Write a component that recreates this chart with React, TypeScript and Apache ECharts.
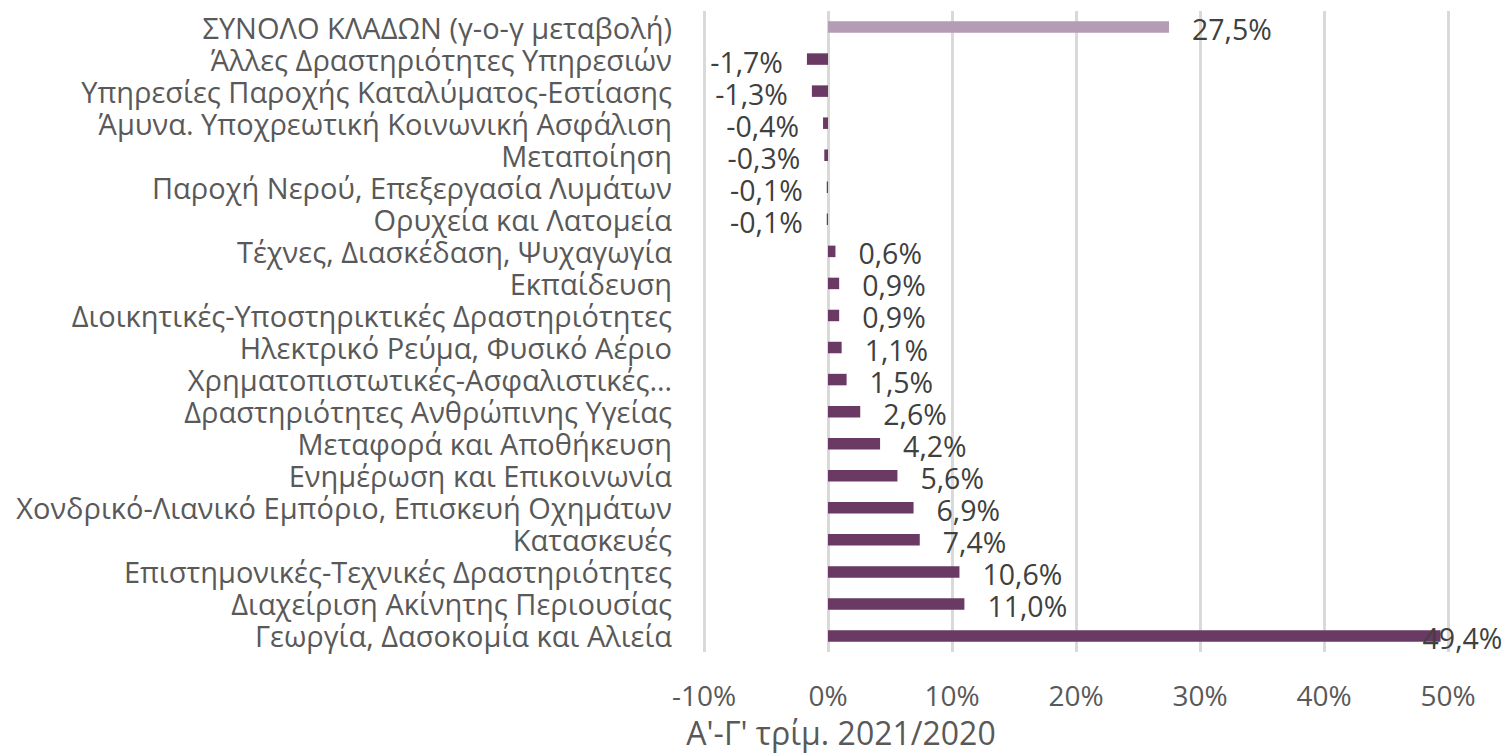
import React, { useEffect, useRef } from "react";
import * as echarts from "echarts";

const categories = [
  "ΣΥΝΟΛΟ ΚΛΑΔΩΝ (γ-ο-γ μεταβολή)",
  "Άλλες Δραστηριότητες Υπηρεσιών",
  "Υπηρεσίες Παροχής Καταλύματος-Εστίασης",
  "Άμυνα. Υποχρεωτική Κοινωνική Ασφάλιση",
  "Μεταποίηση",
  "Παροχή Νερού, Επεξεργασία Λυμάτων",
  "Ορυχεία και Λατομεία",
  "Τέχνες, Διασκέδαση, Ψυχαγωγία",
  "Εκπαίδευση",
  "Διοικητικές-Υποστηρικτικές Δραστηριότητες",
  "Ηλεκτρικό Ρεύμα, Φυσικό Αέριο",
  "Χρηματοπιστωτικές-Ασφαλιστικές…",
  "Δραστηριότητες Ανθρώπινης Υγείας",
  "Μεταφορά και Αποθήκευση",
  "Ενημέρωση και Επικοινωνία",
  "Χονδρικό-Λιανικό Εμπόριο, Επισκευή Οχημάτων",
  "Κατασκευές",
  "Επιστημονικές-Τεχνικές Δραστηριότητες",
  "Διαχείριση Ακίνητης Περιουσίας",
  "Γεωργία, Δασοκομία και Αλιεία",
];

const values = [
  27.5, -1.7, -1.3, -0.4, -0.3, -0.1, -0.1, 0.6, 0.9, 0.9, 1.1, 1.5, 2.6, 4.2,
  5.6, 6.9, 7.4, 10.6, 11.0, 49.4,
];

const xTicks = { min: -10, max: 50, interval: 10 };
const axisTitle = "Α'-Γ' τρίμ. 2021/2020";

const FONT = "'Open Sans', sans-serif";
const DARK = "#6a3964";
const LIGHT = "#b49db4";

const fmt = (v: number) => v.toFixed(1).replace(".", ",") + "%";

export default function App() {
  const ref = useRef<HTMLDivElement>(null);
  useEffect(() => {
    if (!ref.current) return;
    const chart = echarts.init(ref.current, undefined, { renderer: "svg" });
    const data = values.map((v, i) => {
      const item: any = {
        value: v,
        itemStyle: { color: i === 0 ? LIGHT : DARK },
        label: {
          show: true,
          position: v < 0 ? "left" : "right",
          distance: v < 0 ? 24 : 23,
          offset: [0, v < 0 ? 3 : 2],
          formatter: () => fmt(v),
        },
      };
      if (v > 45) {
        item.label.offset = [-41, 2];
      }
      return item;
    });
    chart.setOption({
      animation: false,
      textStyle: { fontFamily: FONT },
      grid: { left: 704, top: 11, width: 744, height: 641, containLabel: false },
      xAxis: {
        type: "value",
        min: xTicks.min,
        max: xTicks.max,
        interval: xTicks.interval,
        axisLine: { show: false },
        axisTick: { show: false },
        splitLine: { lineStyle: { color: "#d9d9d9", width: 3 } },
        axisLabel: {
          formatter: (v: number) => v + "%",
          color: "#595959",
          fontSize: 28,
          lineHeight: 30,
          fontFamily: FONT,
          margin: 28,
        },
      },
      yAxis: {
        type: "category",
        inverse: true,
        data: categories,
        axisLine: { show: false },
        axisTick: { show: false },
        axisLabel: {
          interval: 0,
          color: "#595959",
          fontSize: 29,
          lineHeight: 30,
          fontFamily: FONT,
          margin: 32,
        },
      },
      graphic: [
        {
          type: "text",
          x: 841,
          y: 732,
          style: {
            text: axisTitle,
            fill: "#595959",
            fontSize: 32,
            lineHeight: 34,
            fontFamily: FONT,
            align: "center",
            verticalAlign: "middle",
          },
        },
      ],
      series: [
        {
          type: "bar",
          data,
          barWidth: 11.5,
          label: {
            color: "#404040",
            fontSize: 28.5,
            lineHeight: 30,
            fontFamily: FONT,
          },
        },
      ],
    });
    return () => chart.dispose();
  }, []);
  return (
    <div
      ref={ref}
      style={{ position: "absolute", left: 0, top: 0, width: 1508, height: 754 }}
    />
  );
}
